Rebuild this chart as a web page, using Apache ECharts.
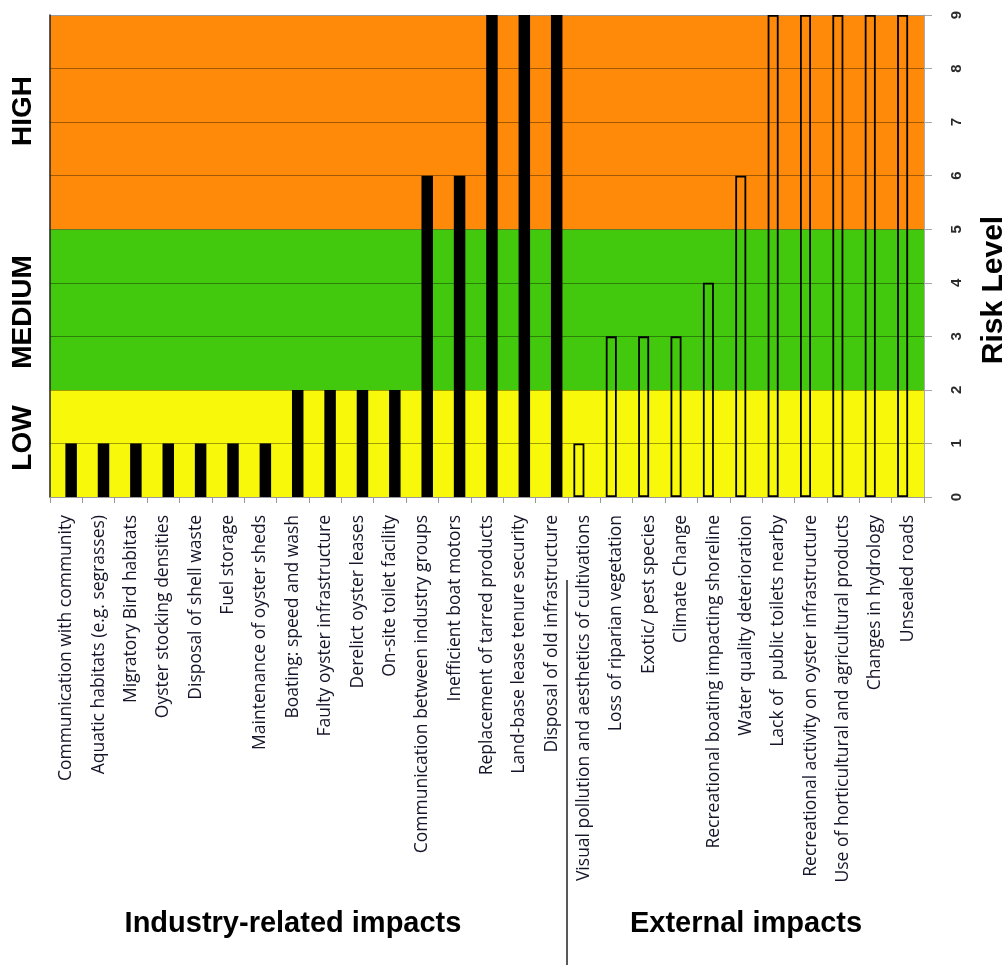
<!DOCTYPE html>
<html>
<head>
<meta charset="utf-8">
<script src="https://cdn.jsdelivr.net/npm/echarts@6/dist/echarts.min.js"></script>
<style>
html,body{margin:0;padding:0;background:#fff;}
#chart{width:1008px;height:965px;}
</style>
</head>
<body>
<div id="chart"></div>
<script>
const industryCategories = [
  "Communication with community",
  "Aquatic habitats (e.g. segrasses)",
  "Migratory Bird habitats",
  "Oyster stocking densities",
  "Disposal of shell waste",
  "Fuel storage",
  "Maintenance of oyster sheds",
  "Boating: speed and wash",
  "Faulty oyster infrastructure",
  "Derelict oyster leases",
  "On-site toilet facility",
  "Communication between industry groups",
  "Inefficient boat motors",
  "Replacement of tarred products",
  "Land-base lease tenure security",
  "Disposal of old infrastructure"
];
const industryValues = [1, 1, 1, 1, 1, 1, 1, 2, 2, 2, 2, 6, 6, 9, 9, 9];

const externalCategories = [
  "Visual pollution and aesthetics of cultivations",
  "Loss of riparian vegetation",
  "Exotic/ pest species",
  "Climate Change",
  "Recreational boating impacting shoreline",
  "Water quality deterioration",
  "Lack of  public toilets nearby",
  "Recreational activity on oyster infrastructure",
  "Use of horticultural and agricultural products",
  "Changes in hydrology",
  "Unsealed roads"
];
const externalValues = [1, 3, 3, 3, 4, 6, 9, 9, 9, 9, 9];

const riskTicks = [0, 1, 2, 3, 4, 5, 6, 7, 8, 9];
const bandColors = ['#F8F80A', '#F8F80A', '#42C90E', '#42C90E', '#42C90E', '#FF8A0A', '#FF8A0A', '#FF8A0A', '#FF8A0A'];

const categories = industryCategories.concat(externalCategories);
const industryData = industryValues.concat(externalCategories.map(() => '-'));
const externalData = industryCategories.map(() => '-').concat(externalValues);

const splitColors = riskTicks.map((t, i) => (i === 0 || i === riskTicks.length - 1) ? '#999999' : 'rgba(0,0,0,0.36)');

const chart = echarts.init(document.getElementById('chart'));
chart.setOption({
  animation: false,
  backgroundColor: '#ffffff',
  grid: { left: 50, right: 84, top: 15, bottom: 468, containLabel: false },
  xAxis: {
    type: 'category',
    data: categories,
    axisLine: { lineStyle: { color: '#999999', width: 1 } },
    axisTick: { show: true, length: 6, lineStyle: { color: '#999999' } },
    axisLabel: {
      rotate: 90, interval: 0, margin: 18,
      fontFamily: 'Open Sans', fontSize: 17.5, color: '#15152a'
    }
  },
  yAxis: [
    {
      type: 'value', position: 'right', min: 0, max: 9, interval: 1,
      axisLine: { show: true, lineStyle: { color: '#aaaaaa' } },
      axisTick: { show: true, length: 8, lineStyle: { color: '#aaaaaa' } },
      axisLabel: {
        rotate: 90, margin: 25, fontFamily: 'Liberation Sans', fontWeight: 'bold',
        fontSize: 15, color: '#2a2a2a',
        formatter: v => riskTicks.includes(v) ? String(v) : ''
      },
      splitArea: { show: true, areaStyle: { color: bandColors, opacity: 1 } },
      splitLine: { show: true, showMinLine: true, showMaxLine: true, lineStyle: { color: splitColors, width: 1 } }
    },
    {
      type: 'value', position: 'left', min: 0, max: 9, interval: 1,
      axisLine: { show: true, lineStyle: { color: '#222222', width: 1.5 } },
      axisTick: { show: false }, axisLabel: { show: false }, splitLine: { show: false }
    }
  ],
  series: [
    {
      name: 'External impacts', type: 'bar', data: externalData,
      barWidth: 11, barGap: '-10%',
      itemStyle: { color: 'rgba(0,0,0,0)', borderColor: '#000000', borderWidth: 1.8 }
    },
    {
      name: 'Industry-related impacts', type: 'bar', data: industryData,
      barWidth: 11.5, barGap: '-10%',
      itemStyle: { color: '#000000' }
    }
  ],
  graphic: [
    { type: 'text', x: 23, y: 111, rotation: Math.PI / 2,
      style: { text: 'HIGH', font: 'bold 28px "Liberation Sans"', fill: '#000', align: 'center', verticalAlign: 'middle' } },
    { type: 'text', x: 23, y: 312, rotation: Math.PI / 2,
      style: { text: 'MEDIUM', font: 'bold 28px "Liberation Sans"', fill: '#000', align: 'center', verticalAlign: 'middle' } },
    { type: 'text', x: 23, y: 438, rotation: Math.PI / 2,
      style: { text: 'LOW', font: 'bold 28px "Liberation Sans"', fill: '#000', align: 'center', verticalAlign: 'middle' } },
    { type: 'text', x: 994, y: 290, rotation: Math.PI / 2,
      style: { text: 'Risk Level', font: 'bold 30px "Liberation Sans"', fill: '#000', align: 'center', verticalAlign: 'middle' } },
    { type: 'text', x: 293, y: 924,
      style: { text: 'Industry-related impacts', font: 'bold 29px "Liberation Sans"', fill: '#000', align: 'center', verticalAlign: 'middle' } },
    { type: 'text', x: 746, y: 924,
      style: { text: 'External impacts', font: 'bold 29px "Liberation Sans"', fill: '#000', align: 'center', verticalAlign: 'middle' } },
    { type: 'line', shape: { x1: 567, y1: 580, x2: 567, y2: 965 },
      style: { stroke: '#222222', lineWidth: 1.5 } }
  ]
});
</script>
</body>
</html>
